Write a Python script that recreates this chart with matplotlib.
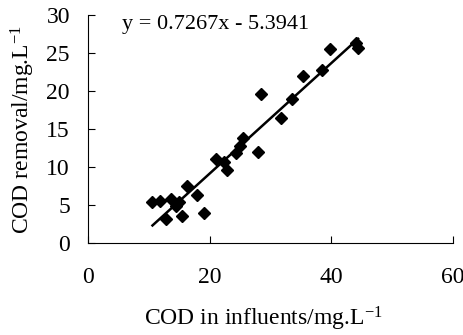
import numpy as np
import matplotlib
matplotlib.use("Agg")
import matplotlib.pyplot as plt

plt.rcParams['font.family'] = ['Liberation Serif', 'DejaVu Serif']
plt.rcParams['mathtext.fontset'] = 'custom'
plt.rcParams['mathtext.rm'] = 'Liberation Serif'
plt.rcParams['mathtext.default'] = 'regular'

# COD in influents (mg/L) vs COD removal (mg/L)
cod_in = [10.6, 11.8, 12.8, 13.6, 14.5, 15.0, 15.4, 16.3, 18.0, 19.0,
          21.1, 22.3, 22.8, 24.4, 25.0, 25.5, 28.0, 28.5, 31.8, 33.5,
          35.4, 38.4, 39.8, 44.0, 44.4]
cod_removal = [5.4, 5.5, 3.2, 5.8, 4.9, 5.4, 3.6, 7.5, 6.3, 3.9,
               11.1, 10.6, 9.6, 11.8, 12.7, 13.8, 12.0, 19.6, 16.5, 19.0,
               22.0, 22.7, 25.5, 26.3, 25.6]

slope = 0.7267
intercept = -5.3941

x_ticks = [0, 20, 40, 60]
y_ticks = [0, 5, 10, 15, 20, 25, 30]

fig = plt.figure(figsize=(4.64, 3.35), dpi=100)
ax = fig.add_axes([88 / 464, 1 - 243 / 335, 365 / 464, 228 / 335])

ax.plot(cod_in, cod_removal, linestyle='none', marker='D', markersize=6.5,
        color='black', zorder=3)

# fitted line over the range of the data
xl = np.array([min(cod_in), max(cod_in)])
ax.plot(xl, slope * xl + intercept, color='black', linewidth=1.8, zorder=2)

ax.set_xlim(0, 60)
ax.set_ylim(0, 30)
ax.set_xticks(x_ticks)
ax.set_yticks(y_ticks)

for s in ['top', 'right']:
    ax.spines[s].set_visible(False)
for s in ['left', 'bottom']:
    ax.spines[s].set_linewidth(0.8)

ax.tick_params(axis='both', direction='in', length=5, width=0.8, labelsize=17)
ax.tick_params(axis='x', pad=17)
ax.tick_params(axis='y', pad=13)

ax.set_xlabel('COD in influents/mg.L$^{-1}$', fontsize=17)
ax.set_ylabel('COD removal/mg.L$^{-1}$', fontsize=17)
ax.xaxis.set_label_coords(0.48, -0.272)
ax.yaxis.set_label_coords(-0.14, 0.5)

ax.text(0.093, 0.94, f'y = {slope}x - {-intercept}', transform=ax.transAxes,
        fontsize=16, va='baseline', ha='left')

fig.savefig('out.png', dpi=100)
